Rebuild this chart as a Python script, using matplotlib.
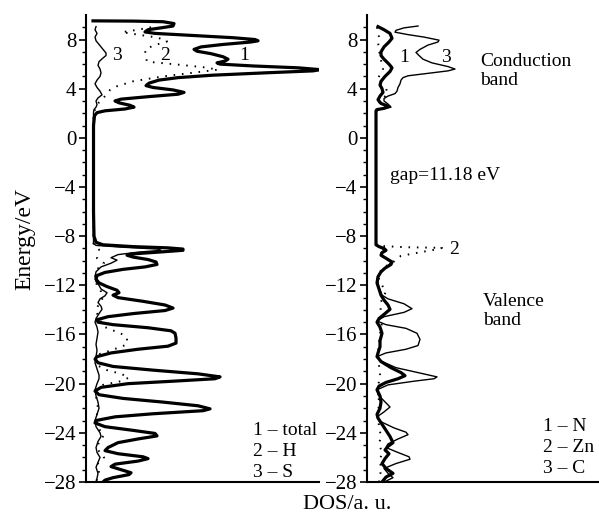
import numpy as np
import matplotlib.pyplot as plt

plt.rcParams['font.family'] = ['Liberation Serif', 'DejaVu Serif']

# DOS curves, (energy eV, DOS a.u.), top to bottom

# left panel
total = [(9.52, 0), (9.5, 40), (9.45, 70), (9.3, 81), (9.1, 80), (8.95, 68), (8.8, 55), (8.62, 52),
         (8.5, 62), (8.35, 95), (8.15, 140), (8.0, 162), (7.9, 165), (7.8, 158), (7.6, 130), (7.4, 108),
         (7.2, 101), (7.05, 104), (6.85, 118), (6.6, 130), (6.4, 135), (6.25, 132), (6.1, 124), (6.0, 127),
         (5.85, 160), (5.7, 205), (5.55, 227), (5.45, 220), (5.3, 175), (5.1, 120), (4.9, 85), (4.7, 66),
         (4.45, 56), (4.25, 53), (4.1, 60), (3.9, 80), (3.7, 91), (3.55, 85), (3.35, 55), (3.15, 28),
         (3.0, 22), (2.85, 26), (2.65, 37), (2.5, 41), (2.35, 32), (2.2, 12), (2.05, 4), (1.8, 1.5),
         (1.0, 0.5), (-6.0, 0.5), (-8.0, 1), (-8.5, 3), (-8.7, 10), (-8.85, 40), (-8.95, 75), (-9.05, 90),
         (-9.15, 90), (-9.3, 65), (-9.45, 38), (-9.55, 34), (-9.7, 40), (-9.9, 55), (-10.1, 63), (-10.3, 64),
         (-10.5, 52), (-10.7, 30), (-10.95, 12), (-11.2, 4), (-11.5, 3), (-11.8, 6), (-12.1, 14), (-12.4, 24),
         (-12.6, 26), (-12.8, 20), (-13.0, 25), (-13.3, 50), (-13.6, 72), (-13.85, 80), (-14.05, 72),
         (-14.3, 40), (-14.55, 15), (-14.8, 4), (-15.0, 5), (-15.2, 20), (-15.45, 55), (-15.7, 78),
         (-15.9, 82), (-16.3, 83), (-16.7, 83), (-16.95, 75), (-17.2, 45), (-17.5, 18), (-17.8, 4),
         (-18.0, 2), (-18.3, 5), (-18.6, 20), (-18.9, 60), (-19.2, 105), (-19.45, 127), (-19.6, 122),
         (-19.8, 80), (-20.0, 35), (-20.3, 8), (-20.6, 2), (-20.9, 6), (-21.2, 30), (-21.5, 70),
         (-21.8, 105), (-22.05, 117), (-22.2, 110), (-22.45, 60), (-22.7, 22), (-23.0, 3), (-23.2, 2),
         (-23.5, 12), (-23.8, 40), (-24.05, 62), (-24.25, 64), (-24.5, 45), (-24.8, 25), (-25.2, 15),
         (-25.45, 12), (-25.7, 25), (-25.95, 50), (-26.1, 55), (-26.3, 45), (-26.55, 22), (-26.75, 18),
         (-27.0, 28), (-27.25, 38), (-27.4, 36), (-27.65, 20), (-27.85, 12), (-28.0, 10)]

hydrogen = [(9.0, 58), (8.8, 45), (8.6, 29), (8.4, 45), (8.15, 65), (7.85, 74), (7.55, 62), (7.25, 53),
            (6.9, 52), (6.5, 53), (6.2, 54), (6.0, 80), (5.75, 110), (5.55, 125), (5.35, 105), (5.0, 70),
            (4.6, 40), (4.2, 24), (3.9, 17), (3.5, 13), (3.2, 10), (2.9, 6), (2.6, 4), (2.3, 2), (2.0, 0.5),
            (-8.6, 0.5), (-8.9, 3), (-9.1, 6), (-9.4, 5), (-9.8, 4), (-10.2, 11), (-10.5, 6), (-10.9, 3),
            (-11.5, 2), (-12.0, 4), (-12.5, 8), (-13.0, 10), (-13.5, 6), (-14.0, 3), (-14.5, 5), (-15.0, 8),
            (-15.4, 12), (-15.7, 21), (-16.0, 30), (-16.3, 34), (-16.8, 34), (-17.0, 28), (-17.2, 21),
            (-17.4, 14), (-17.6, 6), (-18.0, 2), (-18.5, 4), (-18.9, 14), (-19.2, 28), (-19.5, 36),
            (-19.8, 28), (-20.1, 10), (-20.5, 3), (-21.0, 3), (-22.0, 5), (-23.0, 3), (-23.8, 7),
            (-24.2, 11), (-24.7, 6), (-25.3, 4), (-26.0, 11), (-26.5, 5), (-27.3, 6), (-28.0, 3)]

sulfur = [(9.05, 3), (8.8, 2), (8.5, 4), (8.2, 2), (7.9, 3), (7.6, 6), (7.2, 10), (6.9, 13), (6.7, 13),
          (6.5, 10), (6.2, 6), (5.9, 5), (5.6, 7), (5.3, 8), (5.0, 7), (4.7, 4), (4.4, 2), (4.1, 4),
          (3.8, 7), (3.5, 9), (3.25, 5), (3.0, 3), (2.7, 4), (2.5, 3), (2.3, 1), (2.1, 0.5), (0.0, 0.3),
          (-8.6, 0.5), (-8.75, 3), (-8.9, 30), (-9.05, 65), (-9.15, 68), (-9.3, 45), (-9.5, 25),
          (-9.75, 18), (-9.95, 24), (-10.2, 18), (-10.5, 8), (-10.9, 3), (-11.3, 2), (-11.7, 3),
          (-12.0, 6), (-12.3, 8), (-12.6, 14), (-12.85, 12), (-13.1, 7), (-13.4, 5), (-13.7, 8),
          (-13.95, 9), (-14.3, 6), (-14.7, 3), (-15.0, 2), (-15.4, 4), (-15.8, 5), (-16.3, 4), (-16.8, 3),
          (-17.3, 4), (-17.8, 3), (-18.3, 2), (-18.8, 4), (-19.3, 6), (-19.6, 6), (-20.0, 4), (-20.5, 2),
          (-21.0, 3), (-21.5, 5), (-22.0, 6), (-22.5, 4), (-23.0, 2), (-23.5, 3), (-24.0, 7), (-24.3, 8),
          (-24.7, 5), (-25.2, 3), (-25.6, 4), (-26.0, 7), (-26.4, 5), (-26.8, 3), (-27.3, 5), (-27.7, 4),
          (-28.0, 3)]

# right panel
nitrogen = [(9.05, 2), (8.8, 8), (8.5, 14), (8.1, 16), (7.8, 13), (7.4, 8), (7.0, 5), (6.7, 5), (6.4, 8),
            (6.0, 13), (5.7, 16), (5.4, 14), (5.0, 9), (4.6, 5), (4.3, 4), (4.0, 6), (3.7, 7), (3.4, 4),
            (3.1, 2), (2.8, 5), (2.55, 13), (2.4, 8), (2.3, 1), (2.2, 0), (-8.7, 0), (-8.85, 3), (-9.0, 8),
            (-9.15, 10), (-9.35, 6), (-9.55, 5), (-9.8, 10), (-10.1, 16), (-10.3, 15), (-10.6, 9),
            (-10.9, 5), (-11.3, 2), (-11.8, 1), (-12.3, 3), (-12.8, 5), (-13.2, 8), (-13.6, 12),
            (-13.95, 14), (-14.3, 9), (-14.7, 3), (-15.0, 1), (-15.4, 4), (-15.9, 6), (-16.5, 4), (-17.0, 4),
            (-17.5, 2), (-17.8, 1), (-18.2, 5), (-18.7, 15), (-19.1, 25), (-19.35, 29), (-19.6, 22),
            (-19.9, 10), (-20.2, 3), (-20.5, 1), (-21.0, 4), (-21.5, 5), (-22.0, 4), (-22.5, 1), (-22.8, 2),
            (-23.3, 6), (-23.8, 10), (-24.3, 14), (-24.8, 17), (-25.1, 12), (-25.4, 9), (-25.7, 13),
            (-26.1, 9), (-26.5, 6), (-26.9, 10), (-27.3, 17), (-27.6, 10), (-28.0, 6)]

zinc = [(9.0, 1), (8.6, 2), (8.2, 3), (7.8, 2), (7.2, 3), (6.6, 4), (6.0, 6), (5.6, 7), (5.2, 4), (4.8, 2),
        (4.4, 5), (4.0, 10), (3.6, 12), (3.3, 8), (3.0, 4), (2.6, 2), (2.3, 0), (-8.6, 0), (-8.8, 5),
        (-8.9, 30), (-8.95, 66), (-9.05, 62), (-9.3, 45), (-9.6, 25), (-9.9, 20), (-10.2, 16), (-10.5, 8),
        (-11.0, 3), (-11.5, 3), (-12.0, 6), (-12.5, 10), (-13.0, 7), (-13.5, 4), (-14.2, 5), (-14.8, 8),
        (-15.3, 5), (-16.0, 4), (-16.7, 3), (-17.5, 2), (-18.5, 3), (-19.2, 4), (-19.7, 3), (-20.5, 2),
        (-21.5, 3), (-22.5, 2), (-23.5, 3), (-24.3, 5), (-24.9, 3), (-25.6, 6), (-26.2, 4), (-27.0, 5),
        (-28.0, 3)]

carbon = [(9.1, 42), (8.95, 28), (8.75, 20), (8.6, 19), (8.4, 32), (8.2, 48), (7.95, 63), (7.8, 62),
          (7.55, 52), (7.2, 44), (6.95, 40), (6.7, 43), (6.4, 47), (6.1, 56), (5.8, 72), (5.6, 79),
          (5.45, 72), (5.25, 52), (5.05, 32), (4.9, 27), (4.7, 25), (4.4, 24), (4.1, 22), (3.8, 21),
          (3.6, 19), (3.4, 12), (3.2, 8), (3.0, 8), (2.75, 12), (2.5, 15), (2.35, 6), (2.25, 0),
          (-8.7, 0), (-8.85, 3), (-9.0, 6), (-9.15, 8), (-9.35, 5), (-9.6, 6), (-9.9, 12), (-10.15, 15),
          (-10.4, 12), (-10.7, 7), (-11.0, 4), (-11.4, 2), (-11.9, 2), (-12.4, 4), (-12.8, 6), (-13.1, 12),
          (-13.5, 28), (-13.9, 36), (-14.2, 28), (-14.55, 8), (-14.9, 1), (-15.2, 10), (-15.5, 30),
          (-15.9, 41), (-16.4, 44), (-16.9, 42), (-17.2, 30), (-17.5, 10), (-17.8, 1), (-18.2, 6),
          (-18.7, 20), (-19.1, 42), (-19.45, 61), (-19.6, 58), (-19.8, 38), (-20.1, 12), (-20.5, 1),
          (-20.9, 2), (-21.4, 8), (-21.9, 14), (-22.3, 8), (-22.7, 1), (-23.1, 5), (-23.6, 18),
          (-23.95, 30), (-24.15, 32), (-24.5, 22), (-24.9, 12), (-25.2, 10), (-25.6, 22), (-25.95, 33),
          (-26.15, 34), (-26.5, 20), (-26.9, 8), (-27.3, 12), (-27.65, 17), (-27.85, 12), (-28.0, 8)]

yticks = np.arange(-28, 9, 4)

thick = dict(color='black', lw=2.3, solid_joinstyle='round')
thin = dict(color='black', lw=1.0)
dots = dict(color='black', lw=1.4, linestyle=(0, (0.8, 3.5)))


def draw(ax, curve, style):
    e, d = np.array(curve).T
    ax.plot(d, e, **style)


def setup(ax, xlim):
    ax.set_xlim(*xlim)
    ax.set_ylim(-28, 10)
    ax.spines['top'].set_visible(False)
    ax.spines['right'].set_visible(False)
    ax.spines['left'].set_linewidth(1.5)
    ax.spines['bottom'].set_linewidth(1.5)
    ax.set_xticks([])
    ax.set_yticks(yticks)
    ax.set_yticks(np.arange(-28, 10, 1), minor=True)
    ax.tick_params(axis='y', which='major', direction='out', length=5, width=1.2, labelsize=15, pad=2)
    ax.tick_params(axis='y', which='minor', direction='out', length=3, width=1.0)


fig = plt.figure(figsize=(5.99, 5.14), dpi=100)
ax1 = fig.add_axes([0.1436, 0.0623, 0.389, 0.9086])
ax2 = fig.add_axes([0.6127, 0.0623, 0.3873, 0.9086])

setup(ax1, (-7, 226))
setup(ax2, (-9, 223))

draw(ax1, hydrogen, dots)
draw(ax1, sulfur, thin)
draw(ax1, total, thick)

draw(ax2, zinc, dots)
draw(ax2, carbon, thin)
draw(ax2, nitrogen, thick)

fs = 14
ax1.text(19, 6.74, '3', fontsize=fs, va='center')
ax1.text(67, 6.74, '2', fontsize=fs, va='center')
ax1.text(146, 6.74, '1', fontsize=fs, va='center')
ax1.text(160, -23.8, '1 – total', fontsize=fs, va='center')
ax1.text(160, -25.5, '2 – H', fontsize=fs, va='center')
ax1.text(160, -27.2, '3 – S', fontsize=fs, va='center')

ax2.text(23, 6.5, '1', fontsize=fs, va='center')
ax2.text(65, 6.5, '3', fontsize=fs, va='center')
ax2.text(73, -9.07, '2', fontsize=fs, va='center')
ax2.text(104, 5.45, 'Conduction\nband', fontsize=fs, va='center', linespacing=1.1)
ax2.text(14, -3.08, 'gap=11.18 eV', fontsize=fs, va='center')
ax2.text(107, -14.1, 'Valence\nband', fontsize=fs, va='center', linespacing=1.1)
ax2.text(167, -23.5, '1 – N', fontsize=fs, va='center')
ax2.text(167, -25.2, '2 – Zn', fontsize=fs, va='center')
ax2.text(167, -26.9, '3 – C', fontsize=fs, va='center')

fig.text(0.042, 0.535, 'Energy/eV', rotation=90, fontsize=17, ha='center', va='center')
fig.text(0.58, 0.019, 'DOS/a. u.', fontsize=16, ha='center', va='center')

fig.savefig('out.png', dpi=100)
